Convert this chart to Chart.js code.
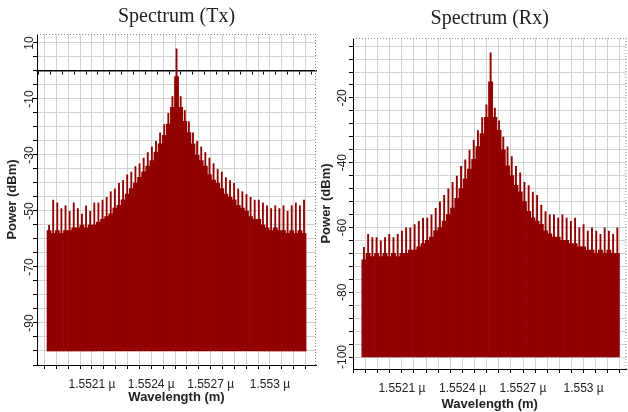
<!DOCTYPE html>
<html>
<head>
<meta charset="utf-8">
<script src="https://cdn.jsdelivr.net/npm/chart.js@4.4.0/dist/chart.umd.min.js"></script>
<style>
  body { margin: 0; background: #fff; }
  #wrap { position: relative; width: 628px; height: 412px; overflow: hidden; }
  canvas { position: absolute; top: 0; }
  #txChart { left: 0; }
  #rxChart { left: 318px; }
</style>
</head>
<body>
<div id="wrap">
  <canvas id="txChart" width="318" height="412"></canvas>
  <canvas id="rxChart" width="310" height="412"></canvas>
</div>
<script>
// comb lines, left to right (dBm)
// top = spike height, floor = dense part under the spikes
const txTop = [
  -55, -46, -47, -49, -48, -50, -47, -49, -51, -48, -50, -47,
  -47, -46, -45, -43, -42, -40, -39, -37, -36, -34, -33, -31,
  -29, -27, -25, -22, -19, -15, -9,
  8,
  -9, -14, -18, -22, -25, -27, -29, -31, -33, -35, -36, -38,
  -39, -40, -42, -43, -44, -45, -46, -46, -47, -48, -49, -48,
  -49, -48, -50, -48, -47, -48, -46
];
const txFloor = [
  -57, -58, -57, -58, -57, -57, -56, -56, -55, -56, -55, -55,
  -54, -53, -52, -51, -49, -48, -46, -44, -42, -40, -38, -36,
  -34, -32, -29, -26, -23, -19, -13,
  -2,
  -13, -18, -22, -26, -30, -32, -34, -37, -39, -40, -42, -44,
  -45, -46, -48, -49, -50, -52, -53, -53, -55, -56, -57, -56,
  -57, -57, -58, -57, -58, -57, -58
];
const rxTop = [
  -66, -62, -63, -63, -64, -63, -62, -63, -62, -61, -60, -60,
  -59, -58, -57, -57, -56, -54, -52, -50, -48, -46, -44, -41,
  -39, -36, -33, -30, -26, -22,
  -6,
  -23, -27, -32, -35, -38, -41, -43, -46, -47, -49, -50, -53,
  -55, -56, -56, -57, -56, -57, -58, -57, -60, -59, -61, -60,
  -61, -62, -60, -61, -62, -60
];
const rxFloor = [
  -70, -68, -69, -68, -69, -68, -69, -68, -69, -68, -68, -67,
  -67, -66, -65, -64, -63, -61, -60, -58, -56, -54, -51, -48,
  -45, -42, -39, -35, -31, -26,
  -15,
  -26, -30, -36, -41, -44, -47, -49, -52, -55, -57, -58, -59,
  -61, -62, -63, -63, -64, -64, -65, -65, -66, -66, -67, -67,
  -68, -67, -68, -67, -68, -68
];
const noiseFloor = -100;

// wavelength of first / last comb line (µm)
const txLambda = [1.551883, 1.5531725];
const rxLambda = [1.551912, 1.553167];

const xTickValues = [1.5521, 1.5524, 1.5527, 1.553];
const xTickLabels = ['1.5521 µ', '1.5524 µ', '1.5527 µ', '1.553 µ'];
const txYTickValues = [10, -10, -30, -50, -70, -90];
const rxYTickValues = [-20, -40, -60, -80, -100];

const RED = '#920000';
const GRID = '#d2d2d2';
Chart.defaults.font.family = 'Arial, "Liberation Sans", sans-serif';

function combPoints(values, lambda) {
  const step = (lambda[1] - lambda[0]) / (values.length - 1);
  return values.map((v, i) => ({ x: lambda[0] + i * step, y: [noiseFloor, v] }));
}

// minor ticks every 1/5 of the labelled step
function xTicks(min, max) {
  const step = (xTickValues[1] - xTickValues[0]) / 5;
  const ticks = [];
  for (let j = Math.ceil((min - xTickValues[0]) / step); xTickValues[0] + j * step <= max; j++) {
    ticks.push({ value: xTickValues[0] + j * step });
  }
  return ticks;
}
function xLabel(value) {
  const i = xTickValues.findIndex(v => Math.abs(v - value) < 1e-8);
  return i < 0 ? '' : xTickLabels[i];
}
function yTicks(min, max, step) {
  const ticks = [];
  for (let v = Math.ceil(min / step) * step; v <= max; v += step) ticks.push({ value: v });
  return ticks;
}

const dottedFrame = {
  id: 'dottedFrame',
  beforeDatasetsDraw(chart) {
    const { ctx, chartArea: a } = chart;
    ctx.save();
    ctx.strokeStyle = '#8a8a8a';
    ctx.lineWidth = 1;
    ctx.setLineDash([1, 2]);
    ctx.beginPath();
    ctx.moveTo(a.left, a.top + 0.5);
    ctx.lineTo(a.right, a.top + 0.5);
    ctx.moveTo(a.right - 0.5, a.top);
    ctx.lineTo(a.right - 0.5, a.bottom);
    ctx.stroke();
    ctx.restore();
  }
};

function makeChart(id, o) {
  const scales = {
    x: {
      type: 'linear', min: o.xMin, max: o.xMax, offset: false,
      afterBuildTicks: s => { s.ticks = xTicks(o.xMin, o.xMax); },
      afterFit: s => { s.height = o.xAxisHeight; },
      grid: { color: GRID, offset: false, tickColor: '#000', tickLength: 4 },
      border: { color: '#000' },
      ticks: { autoSkip: false, maxRotation: 0, padding: 8, color: '#222', font: { size: 12 }, callback: xLabel },
      title: { display: true, text: 'Wavelength (m)', color: '#222', font: { size: 13, weight: 'bold' }, padding: { top: 0, bottom: o.xTitlePad } }
    },
    y: {
      min: o.yMin, max: o.yMax,
      afterBuildTicks: s => { s.ticks = yTicks(o.yMin, o.yMax, o.yStep); },
      afterFit: s => { s.width = o.yAxisWidth; },
      grid: { color: GRID, tickColor: '#000', tickLength: 4 },
      border: { color: '#000' },
      ticks: {
        autoSkip: false, minRotation: 90, maxRotation: 90, crossAlign: 'center', padding: o.yTickPad,
        color: '#222', font: { size: 12 },
        callback: v => (o.yLabels.includes(v) ? String(v) : '')
      },
      title: { display: true, text: 'Power (dBm)', color: '#222', font: { size: 13, weight: 'bold' }, padding: { top: o.yTitlePad, bottom: 0 } }
    }
  };
  if (o.zeroLine) {
    // heavy line at 0 dBm with its own tick marks
    scales.xz = {
      type: 'linear', axis: 'x', position: { y: 0 }, min: o.xMin, max: o.xMax, offset: false,
      afterBuildTicks: s => { s.ticks = xTicks(o.xMin, o.xMax); },
      grid: { drawOnChartArea: false, color: '#000', tickLength: 3 },
      border: { color: '#000', width: 1.5 },
      ticks: { display: false }
    };
  }

  return new Chart(document.getElementById(id), {
    type: 'bar',
    data: {
      datasets: [
        { data: combPoints(o.floor, o.lambda), backgroundColor: RED, grouped: false, barPercentage: 1, categoryPercentage: 1 },
        { data: combPoints(o.top, o.lambda), backgroundColor: RED, grouped: false, barPercentage: 0.45, categoryPercentage: 1 }
      ]
    },
    options: {
      responsive: false,
      animation: false,
      layout: { padding: { left: 0, right: o.padRight, top: 0, bottom: 0 } },
      plugins: {
        legend: { display: false },
        tooltip: { enabled: false },
        title: {
          display: true, text: o.title, fullSize: false, color: '#222',
          font: { family: '"Liberation Serif", "Times New Roman", serif', size: 20, weight: 'normal' },
          padding: { top: o.titlePad[0], bottom: o.titlePad[1] }
        }
      },
      scales: scales
    },
    plugins: [dottedFrame]
  });
}

makeChart('txChart', {
  title: 'Spectrum (Tx)', top: txTop, floor: txFloor, lambda: txLambda,
  xMin: 1.551822, xMax: 1.553233, yMin: -105, yMax: 13.2, yStep: 5, yLabels: txYTickValues,
  yAxisWidth: 37, xAxisHeight: 47, padRight: 2, titlePad: [5, 5],
  xTitlePad: 7, yTitlePad: 5, yTickPad: -5, zeroLine: true
});

makeChart('rxChart', {
  title: 'Spectrum (Rx)', top: rxTop, floor: rxFloor, lambda: rxLambda,
  xMin: 1.551858, xMax: 1.553212, yMin: -103.7, yMax: -1.5, yStep: 4, yLabels: rxYTickValues,
  yAxisWidth: 35, xAxisHeight: 43, padRight: 1, titlePad: [7, 7],
  xTitlePad: 0, yTitlePad: 1, yTickPad: -6, zeroLine: false
});
</script>
</body>
</html>
